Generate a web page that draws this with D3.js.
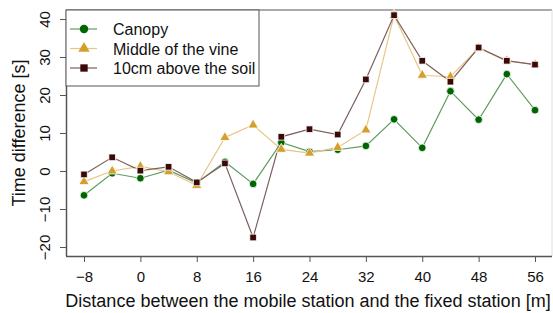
<!DOCTYPE html>
<html>
<head>
<meta charset="utf-8">
<script src="https://cdn.jsdelivr.net/npm/d3@7"></script>
<style>
  body { margin: 0; background: #fff; }
  text { font-family: "Liberation Sans", Arial, sans-serif; fill: #111; }
</style>
</head>
<body>
<svg id="chart" width="553" height="313"></svg>
<script>
// distances along the row [m]
const distances = [-8, -4, 0, 4, 8, 12, 16, 20, 24, 28, 32, 36, 40, 44, 48, 52, 56];

// time difference [s] per sensor position
const canopy = [-6.4, -0.6, -1.9, 0.2, -3.2, 2.4, -3.4, 7.5, 5.1, 5.6, 6.6, 13.6, 6.1, 21, 13.5, 25.5, 16];
const middleVine = [-2.8, 0, 1.2, -0.2, -3.8, 8.8, 12.1, 5.7, 4.7, 6.2, 10.8, 41, 25.2, 24.8, 32.3, 29, 28];
const aboveSoil = [-0.9, 3.6, 0.1, 1.1, -3, 2, -17.5, 9, 11, 9.6, 24.1, 41, 29, 23.5, 32.5, 29, 28];

const seriesNames = ['Canopy', 'Middle of the vine', '10cm above the soil'];
const xTicks = [-8, 0, 8, 16, 24, 32, 40, 48, 56];
const yTicks = [-20, -10, 0, 10, 20, 30, 40];

const series = [
  {name: seriesNames[0], values: canopy, color: '#006400', line: '#5e9c5e', shape: d3.symbolCircle, size: 46},
  {name: seriesNames[1], values: middleVine, color: '#d4a02a', line: '#e8c584', shape: d3.symbolTriangle, size: 46},
  {name: seriesNames[2], values: aboveSoil, color: '#3a0a08', line: '#7c5f5e', shape: d3.symbolSquare, size: 44}
];

const svg = d3.select('#chart');
const pLeft = 66, pRight = 552, pTop = 10, pBottom = 256;

const x = d3.scaleLinear().domain([-8, 56]).range([84, 535]);
const y = d3.scaleLinear().domain([0, 40]).range([171, 19]);

// frame
svg.append('line').attr('x1', pLeft).attr('x2', pRight).attr('y1', pTop).attr('y2', pTop)
  .attr('stroke', '#aaa').attr('stroke-width', 2);
svg.append('line').attr('x1', pRight).attr('x2', pRight).attr('y1', pTop).attr('y2', pBottom)
  .attr('stroke', '#ddd').attr('stroke-width', 1);

// axes
const xAxis = svg.append('g').attr('transform', 'translate(0,' + pBottom + ')')
  .call(d3.axisBottom(x).tickValues(xTicks).tickSize(6).tickPadding(9));
xAxis.select('.domain').attr('d', 'M' + pLeft + ',0.5H' + pRight).attr('stroke', '#555').attr('stroke-width', 1.5);
xAxis.selectAll('.tick line').attr('stroke', '#555');
xAxis.selectAll('text').style('font-size', '15px').attr('fill', '#111');

const yAxis = svg.append('g').attr('transform', 'translate(' + pLeft + ',0)')
  .call(d3.axisLeft(y).tickValues(yTicks).tickSize(6));
yAxis.select('.domain').attr('d', 'M0.5,' + pTop + 'V' + pBottom).attr('stroke', '#555').attr('stroke-width', 1.5);
yAxis.selectAll('.tick line').attr('stroke', '#555');
yAxis.selectAll('text')
  .attr('x', 0).attr('dy', 0)
  .attr('transform', 'translate(-16,0) rotate(-90)')
  .attr('text-anchor', 'middle')
  .style('font-size', '15px').attr('fill', '#111');

// titles
svg.append('text').attr('x', 308).attr('y', 307).attr('text-anchor', 'middle')
  .style('font-size', '18px').text('Distance between the mobile station and the fixed station [m]');
svg.append('text').attr('transform', 'translate(25,133) rotate(-90)').attr('text-anchor', 'middle')
  .style('font-size', '18px').text('Time difference [s]');

// lines and points
const line = d3.line().x((d, i) => x(distances[i])).y(d => y(d));
series.forEach(s => {
  svg.append('path').datum(s.values)
    .attr('d', line).attr('fill', 'none')
    .attr('stroke', s.line).attr('stroke-width', 1.2);
});
series.forEach(s => {
  svg.selectAll(null).data(s.values).enter().append('path')
    .attr('d', d3.symbol().type(s.shape).size(s.size))
    .attr('transform', (d, i) => 'translate(' + x(distances[i]) + ',' + y(d) + ')')
    .attr('fill', s.color).attr('stroke', '#fff').attr('stroke-width', 0.8);
});

// legend
const legend = svg.append('g');
legend.append('rect').attr('x', pLeft).attr('y', pTop).attr('width', 193).attr('height', 76)
  .attr('fill', '#fff').attr('stroke', '#555').attr('stroke-width', 1);
series.forEach((s, i) => {
  const ly = 29 + i * 19.5;
  legend.append('line').attr('x1', 70).attr('x2', 97).attr('y1', ly).attr('y2', ly)
    .attr('stroke', s.line).attr('stroke-width', 1.2);
  legend.append('path').attr('d', d3.symbol().type(s.shape).size(s.size + 10))
    .attr('transform', 'translate(84,' + ly + ')').attr('fill', s.color);
  legend.append('text').attr('x', 113).attr('y', ly + 6).style('font-size', '16px').text(s.name);
});
</script>
</body>
</html>
